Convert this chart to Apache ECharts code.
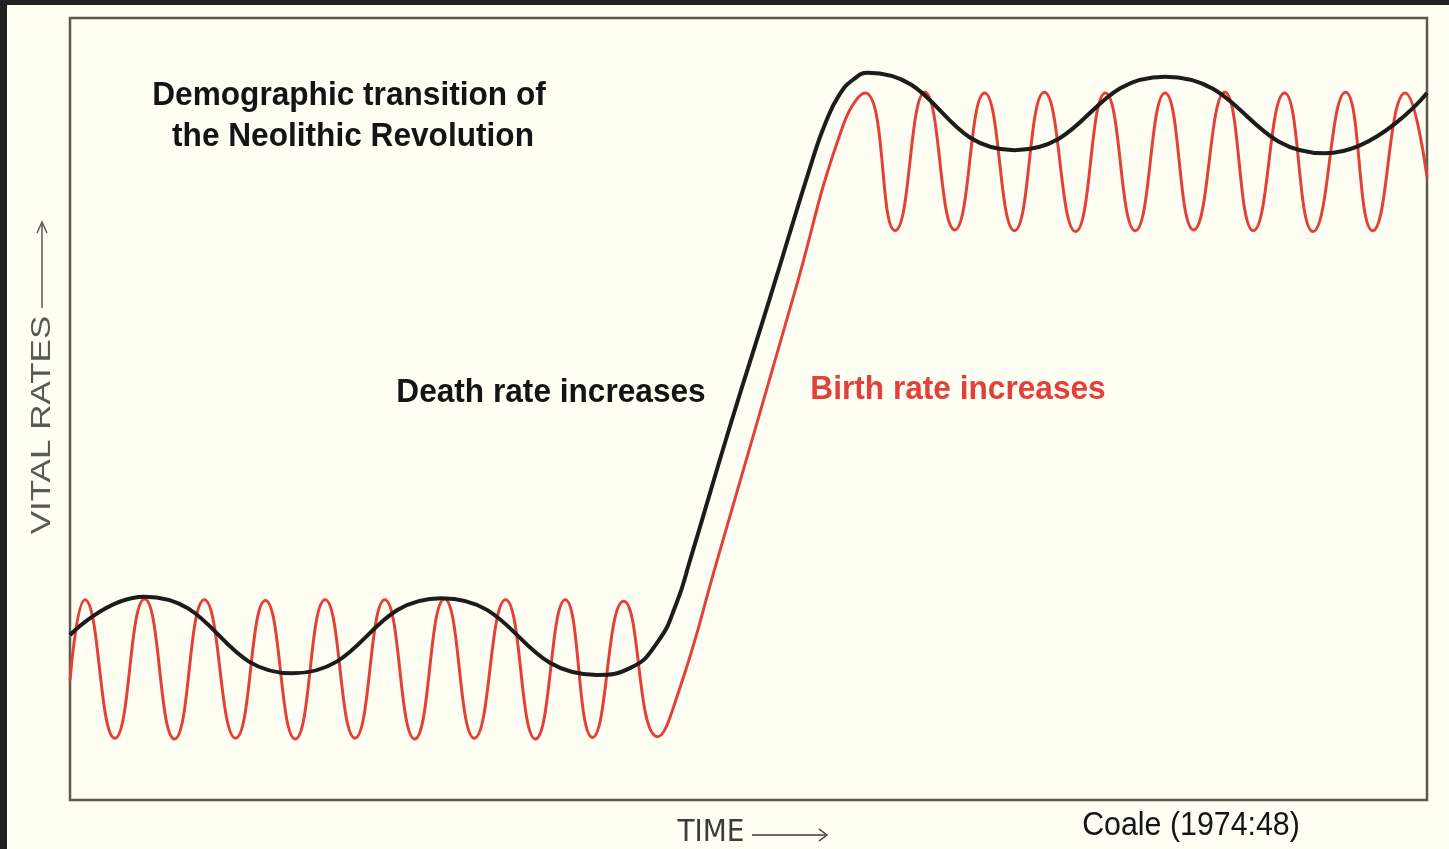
<!DOCTYPE html>
<html>
<head>
<meta charset="utf-8">
<title>Demographic transition of the Neolithic Revolution</title>
<script src="https://cdn.jsdelivr.net/npm/echarts@6/dist/echarts.min.js"></script>
<style>
  html, body { margin: 0; padding: 0; background: #212121; overflow: hidden; }
  #chart { position: absolute; left: 7px; top: 5px; width: 1442px; height: 844px; background: #fefef2; }
</style>
</head>
<body>
<div id="chart"></div>
<script>
// time runs 0..100 across the frame, vital rate 0..100 bottom to top
// birth rate: fast oscillation, low plateau -> straight rise -> high plateau
var birthTime = [0, 1.1, 3.3, 5.5, 7.7, 9.9, 12.2, 14.4, 16.6, 18.8, 21.0, 23.2, 25.4, 27.6, 29.8, 32.1, 34.3, 36.5, 38.5, 40.8, 43.3,
                 44.9, 47.7, 53.3, 57.0,
                 58.6, 60.8, 63.0, 65.2, 67.4, 69.6, 71.8, 74.1, 76.3, 78.5, 80.7, 82.8, 85.1, 87.2, 89.5, 91.6, 94.0, 96.0, 98.4, 100];
var birthRate = [15.3, 25.6, 7.9, 25.7, 7.8, 25.6, 7.9, 25.5, 7.8, 25.6, 7.9, 25.6, 7.8, 25.7, 7.9, 25.6, 7.8, 25.6, 8.0, 25.4, 8.1,
                 14.1, 30.7, 64.3, 86.4,
                 90.4, 72.8, 90.5, 72.9, 90.4, 72.8, 90.5, 72.7, 90.4, 72.8, 90.4, 72.9, 90.5, 72.8, 90.4, 72.7, 90.5, 72.8, 90.4, 79.7];
// death rate: slow wave, same rise a little earlier
var deathTime = [0, 5.5, 16.4, 27.4, 38.8, 41.3, 43.3, 44.7, 45.7, 48.6, 51.6, 54.7, 55.7, 56.7, 57.7, 58.8, 69.6, 80.7, 92.5, 100];
var deathRate = [21.1, 26.0, 16.2, 25.8, 16.0, 16.9, 20.2, 25.2, 30.7, 47.6, 64.3, 81.8, 86.7, 90.2, 92.1, 93.0, 83.1, 92.5, 82.7, 90.4];

var titleLines = ['Demographic transition of', 'the Neolithic Revolution'];
var deathLabel = 'Death rate increases';
var birthLabel = 'Birth rate increases';
var yName = 'VITAL RATES';
var xName = 'TIME';
var sourceNote = 'Coale (1974:48)';

function pairs(xs, ys) {
    var out = [];
    for (var i = 0; i < xs.length; i++) out.push([xs[i], ys[i]]);
    return out;
}

var sans = '"Liberation Sans", Arial, sans-serif';
var condensed = '"DejaVu Sans Condensed", "Liberation Sans", sans-serif';
var red = '#e4403a';
var ink = '#141414';

var myChart = echarts.init(document.getElementById('chart'));
var option = {
    backgroundColor: '#fefef2',
    animation: false,
    grid: {
        left: 63, right: 22, top: 13, bottom: 49,
        show: true,
        borderColor: '#5a5a50',
        borderWidth: 2.5,
        backgroundColor: 'transparent'
    },
    xAxis: {
        type: 'value', min: 0, max: 100,
        axisLine: { show: false }, axisTick: { show: false },
        axisLabel: { show: false }, splitLine: { show: false }
    },
    yAxis: {
        type: 'value', min: 0, max: 100,
        axisLine: { show: false }, axisTick: { show: false },
        axisLabel: { show: false }, splitLine: { show: false }
    },
    series: [
        {
            name: 'Birth rate',
            type: 'line',
            data: pairs(birthTime, birthRate),
            smooth: 0.5,
            showSymbol: false,
            lineStyle: { color: red, width: 3 },
            z: 2
        },
        {
            name: 'Death rate',
            type: 'line',
            data: pairs(deathTime, deathRate),
            smooth: 0.5,
            showSymbol: false,
            lineStyle: { color: '#1c1c1a', width: 4 },
            z: 3
        }
    ],
    graphic: [
        { type: 'text', x: 342, y: 91, scaleX: 0.93,
          style: { text: titleLines[0], font: 'bold 34px ' + sans, fill: ink, textAlign: 'center', textVerticalAlign: 'middle' } },
        { type: 'text', x: 346, y: 132, scaleX: 0.93,
          style: { text: titleLines[1], font: 'bold 34px ' + sans, fill: ink, textAlign: 'center', textVerticalAlign: 'middle' } },
        { type: 'text', x: 544, y: 388, scaleX: 0.93,
          style: { text: deathLabel, font: 'bold 34px ' + sans, fill: ink, textAlign: 'center', textVerticalAlign: 'middle' } },
        { type: 'text', x: 951, y: 385, scaleX: 0.93,
          style: { text: birthLabel, font: 'bold 34px ' + sans, fill: red, textAlign: 'center', textVerticalAlign: 'middle' } },
        { type: 'text', x: 35, y: 420, rotation: Math.PI / 2, scaleX: 1.25,
          style: { text: yName, font: '28px ' + sans, fill: '#5a5a55', textAlign: 'center', textVerticalAlign: 'middle' } },
        { type: 'line', shape: { x1: 35, y1: 303, x2: 35, y2: 217 }, style: { stroke: '#5a5a55', lineWidth: 1.5 } },
        { type: 'polyline', shape: { points: [[30, 228], [35, 217], [40, 228]] }, style: { stroke: '#5a5a55', lineWidth: 1.5, fill: null } },
        { type: 'text', x: 704, y: 828,
          style: { text: xName, font: '31px ' + condensed, fill: '#3c3c3a', textAlign: 'center', textVerticalAlign: 'middle' } },
        { type: 'line', shape: { x1: 745, y1: 830, x2: 818, y2: 830 }, style: { stroke: '#3c3c3a', lineWidth: 1.5 } },
        { type: 'polyline', shape: { points: [[812, 824], [820, 830], [812, 836]] }, style: { stroke: '#3c3c3a', lineWidth: 1.5, fill: null } },
        { type: 'text', x: 1184, y: 821, scaleX: 0.92,
          style: { text: sourceNote, font: '33px ' + sans, fill: '#151515', textAlign: 'center', textVerticalAlign: 'middle' } }
    ]
};
myChart.setOption(option, true);
</script>
</body>
</html>
